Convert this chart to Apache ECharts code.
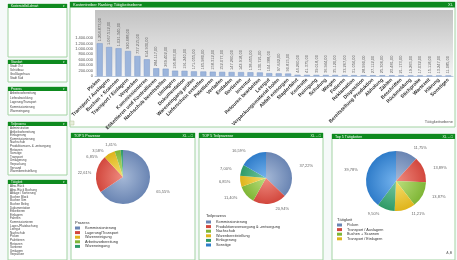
<!DOCTYPE html>
<html>
<head>
<meta charset="utf-8">
<script src="https://cdn.jsdelivr.net/npm/echarts@6/dist/echarts.min.js"></script>
<style>
  html, body { margin: 0; padding: 0; background: #f5f9f9; }
  #chart { width: 457px; height: 260px; }
</style>
</head>
<body>
<div id="chart"></div>
<script>
// Kostentreiber Ranking Tätigkeitsebene
var categories = [
  "Picken", "Transport / Auslagern", "Buchen + Scannen", "Transport / Einlagern",
  "Verpacken", "Kommissionieren", "Etikettieren und Kontrollieren", "Nachschub bereitstellen",
  "Umlagern", "Dokumentation", "Wareneingang prüfen", "Lieferschein erstellen",
  "Palettieren", "Verladen", "Entladen", "Sortieren", "Inventur", "Retouren bearbeiten",
  "Leergut", "Verpackungsmaterial holen", "Abfall entsorgen", "Staplerfahrt", "Kontrolle",
  "Reinigung", "Schulung", "Wiegen", "Folieren", "Reklamation", "Disposition",
  "Bereitstellung Produktion", "Abholung", "Zählen", "Beschriften", "Rückmeldung",
  "Stichprobe", "Wartezeit", "Klärung", "Sonstiges"
];
var costs = [
  1204873, 1067512, 1021340, 920688, 737215, 614930, 284117, 269402,
  195863, 191240, 171055, 165980, 158312, 152077, 147260, 142918, 138455, 130721,
  104388, 97642, 90815, 44260, 41375, 39018, 36944, 35120, 33267, 31054, 28990,
  27112, 25306, 23481, 21173, 19265, 17032, 15118, 13247, 11085
];

// TOP 5 Prozesse
var prozessNames = ["Kommissionierung", "Lagerung/Transport", "Warenreinigung", "Arbeitsvorbereitung", "Wareneingang"];
var prozessShares = [65.55, 22.61, 6.85, 3.58, 1.41];

// TOP 5 Teilprozesse
var teilprozessNames = ["Kommissionierung", "Produktionsversorgung & -entsorgung", "Nachschub", "Warenbereitstellung", "Einlagerung", "Sonstige"];
var teilprozessShares = [37.22, 20.94, 11.40, 6.85, 7.00, 16.59];

// Top 5 Tätigkeiten
var taetigkeitNames = ["Picken", "Transport / Auslagern", "Buchen + Scannen", "Transport / Einlagern", "Verpacken", "Sonstige"];
var taetigkeitShares = [11.75, 13.89, 13.87, 11.21, 9.50, 39.78];

// Listboxen links
var standortList = ["Stadt Ost", "Schüttbau", "Großlagerhaus", "Stadt Süd"];
var prozessList = ["Arbeitsvorbereitung", "Lieferabwicklung", "Lagerung/Transport", "Kommissionierung", "Wareneingang"];
var teilprozessList = ["Administration", "Artikelvorbereitung", "Einlagerung", "Kommissionierung", "Nachschub",
  "Produktionsver- & -entsorgung", "Retouren", "Sonstige", "Transport", "Umlagerung", "Verpackung",
  "Versand", "Warenbereitstellung"];
var taetigkeitList = ["Abw. Rück", "Abw. Rück Buchung", "Ablage / Sortierung", "Buchen Block", "Buchen Sim",
  "Buchen Beleg", "Dokumentation", "Etikettieren", "Einlagern", "Fahrten", "Kommissionieren",
  "Lager-/Platzbuchung", "Leergut", "Nachschub", "Picken", "Palettieren", "Retouren", "Sortieren",
  "Umlagern", "Verpacken"];

// farben (hell, dunkel)
var pal = [
  ["#a5b8d6", "#6a85b3"],
  ["#ef8c80", "#d2473d"],
  ["#bcdf7e", "#7fb636"],
  ["#f6df70", "#dfb41b"],
  ["#74c7a0", "#2f9a67"],
  ["#74b3ee", "#2f7cc9"]
];
var pal1 = [pal[0], pal[1], pal[3], pal[2], pal[4]];

function fmt(v) {
  return String(v).replace(/\B(?=(\d{3})+(?!\d))/g, ".");
}

var green = "#0e8a1f";
var graphics = [];

function panel(x, y, w, h, title, tb, fs, icons) {
  graphics.push({ type: "rect", z: -5, shape: { x: x, y: y, width: w, height: h },
    style: { fill: "#fff", stroke: "#a3d3a3", lineWidth: 1 } });
  graphics.push({ type: "rect", z: -4, shape: { x: x, y: y, width: w, height: tb },
    style: { fill: green } });
  graphics.push({ type: "text", z: -3, x: x + 3, y: y + tb / 2,
    style: { text: title, fill: "#fff", fontSize: fs, verticalAlign: "middle" } });
  if (icons) {
    graphics.push({ type: "text", z: -3, x: x + w - 2, y: y + tb / 2,
      style: { text: icons, fill: "#e8f5e8", fontSize: fs, align: "right", verticalAlign: "middle" } });
  }
}

function listBox(x, y, w, h, title, items, step) {
  panel(x, y, w, h, title, 4, 3, "▾");
  items.forEach(function (t, i) {
    graphics.push({ type: "text", z: -3, x: x + 2, y: y + 4 + step * (i + 0.6),
      style: { text: t, fill: "#444", fontSize: 3, verticalAlign: "middle" } });
  });
}

listBox(8, 4, 59, 53, "Kostenstelle/Lohnart", [], 4);
listBox(8, 60, 59, 22, "Standort", standortList, 4);
listBox(8, 87, 59, 28, "Prozess", prozessList, 4.4);
listBox(8, 122, 59, 53, "Teilprozess", teilprozessList, 3.6);
listBox(8, 180, 59, 80, "Tätigkeit", taetigkeitList, 3.6);

panel(70, 2, 385, 125, "Kostentreiber Ranking Tätigkeitsebene", 5.5, 4, "XL");
// grauer Hintergrund hinter den Balken
graphics.push({ type: "rect", z: -2, shape: { x: 95, y: 10, width: 358, height: 66 },
  style: { fill: { type: "linear", x: 0, y: 0, x2: 0, y2: 1,
    colorStops: [{ offset: 0, color: "#c2c2c2" }, { offset: 1, color: "#f4f4f4" }] } } });
graphics.push({ type: "rect", z: -2, shape: { x: 70, y: 121, width: 4, height: 4 },
  style: { fill: "#e7eedc", stroke: "#b7c79a", lineWidth: 0.5 } });
graphics.push({ type: "text", z: -2, x: 453, y: 122,
  style: { text: "Tätigkeitsebene", fill: "#555", fontSize: 4, align: "right", verticalAlign: "middle" } });

panel(71, 133, 124, 127, "TOP 5 Prozesse", 5, 3.6, "XL – □");
panel(199, 133, 124, 127, "TOP 5 Teilprozesse", 5, 3.6, "XL – □");
panel(332, 134, 123, 126, "Top 5 Tätigkeiten", 5, 3.6, "XL – □");

graphics.push({ type: "text", x: 75, y: 223, style: { text: "Prozess", fill: "#333", fontSize: 4, verticalAlign: "middle" } });
graphics.push({ type: "text", x: 206, y: 216, style: { text: "Teilprozess", fill: "#333", fontSize: 4, verticalAlign: "middle" } });
graphics.push({ type: "text", x: 337, y: 220, style: { text: "Tätigkeit", fill: "#333", fontSize: 4, verticalAlign: "middle" } });
graphics.push({ type: "text", x: 452, y: 253, style: { text: "A,B", fill: "#666", fontSize: 3.5, align: "right", verticalAlign: "middle" } });

function pieData(names, shares, colors, cx, cy, r) {
  return names.map(function (n, i) {
    return {
      name: n,
      value: shares[i],
      itemStyle: {
        color: { type: "radial", x: cx, y: cy, r: r, global: true,
          colorStops: [{ offset: 0, color: colors[i][0] }, { offset: 1, color: colors[i][1] }] }
      }
    };
  });
}

function legendData(names, colors, n) {
  return names.slice(0, n).map(function (nm, i) {
    return { name: nm, itemStyle: { color: colors[i][1] } };
  });
}

function pieSeries(names, shares, colors, cx, cy, r) {
  return {
    type: "pie",
    center: [cx, cy],
    radius: r,
    data: pieData(names, shares, colors, cx, cy, r),
    label: { show: true, position: "outside", fontSize: 4, color: "#666",
      formatter: function (p) { return p.value.toFixed(2).replace(".", ",") + "%"; } },
    labelLine: { show: false, length: 5, length2: 0 },
    itemStyle: { borderWidth: 0 }
  };
}

var legendBase = {
  orient: "vertical", icon: "rect", itemWidth: 5, itemHeight: 3, itemGap: 0.6,
  textStyle: { fontSize: 3.8, color: "#333", lineHeight: 4 }, padding: 0
};

var chart = echarts.init(document.getElementById("chart"));
chart.setOption({
  backgroundColor: "#f5f9f9",
  animation: false,
  textStyle: { fontFamily: "Liberation Sans, Arial, sans-serif" },
  graphic: graphics,
  grid: { left: 95, right: 4, top: 38, bottom: 184 },
  xAxis: {
    type: "category",
    data: categories,
    axisLine: { lineStyle: { color: "#b8c8de", width: 1 } },
    axisTick: { show: false },
    axisLabel: { interval: 0, rotate: 45, fontSize: 5, color: "#333", fontWeight: "bold", margin: 3 }
  },
  yAxis: {
    type: "value",
    min: 0, max: 1400000, interval: 200000,
    splitLine: { show: false },
    axisLine: { show: false },
    axisTick: { show: false },
    axisLabel: { fontSize: 4, color: "#555", margin: 2, formatter: fmt }
  },
  legend: [
    Object.assign({ left: 75, top: 226, data: legendData(prozessNames, pal1, 5) }, legendBase),
    Object.assign({ left: 206, top: 220, data: legendData(teilprozessNames, pal, 6) }, legendBase),
    Object.assign({ left: 337, top: 223, data: legendData(taetigkeitNames, pal, 4) }, legendBase)
  ],
  series: [
    {
      type: "bar",
      data: costs,
      barWidth: 6,
      itemStyle: { color: "#9cb5dc", borderColor: "#7d99c6", borderWidth: 0.5 },
      label: {
        show: true, position: "top", rotate: 90, align: "left", verticalAlign: "middle",
        distance: 2, fontSize: 4, color: "#666",
        formatter: function (p) { return fmt(p.value) + ",00"; }
      }
    },
    pieSeries(prozessNames, prozessShares, pal1, 123, 177, 27),
    pieSeries(teilprozessNames, teilprozessShares, pal, 266, 178, 26),
    pieSeries(taetigkeitNames, taetigkeitShares, pal, 396, 181, 30)
  ]
});
</script>
</body>
</html>
